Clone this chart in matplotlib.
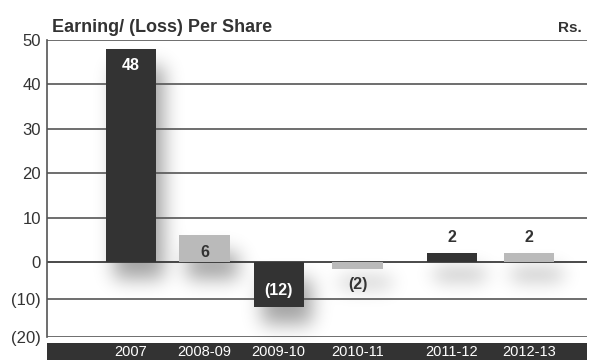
import numpy as np
from matplotlib import pyplot

pyplot.rcParams['font.family'] = ['Liberation Sans', 'DejaVu Sans']

years = ['2007', '2008-09', '2009-10', '2010-11', '2011-12', '2012-13']
eps = [48, 6, -12, -2, 2, 2]
value_labels = ['48', '6', '(12)', '(2)', '2', '2']
y_ticks = [-20, -10, 0, 10, 20, 30, 40, 50]
y_tick_labels = ['(20)', '(10)', '0', '10', '20', '30', '40', '50']

DARK = '#333333'
LIGHT = '#bababa'
TEXT = '#333333'
GRID = '#555555'

W, H = 595, 360

# slot of each bar, with a wider gap before 2011-12
xpos = [0, 0.98, 1.97, 3.02, 4.28, 5.31]
bar_w = 0.67
neg_squash = 0.845  # losses are drawn on a slightly tighter scale


def _fwd(y):
    y = np.asarray(y, dtype=float)
    return np.where(y < 0, y * neg_squash, y)


def _inv(y):
    y = np.asarray(y, dtype=float)
    return np.where(y < 0, y / neg_squash, y)


def _blur(img, sigma):
    r = int(3 * sigma)
    k = np.exp(-0.5 * (np.arange(-r, r + 1) / sigma) ** 2)
    k /= k.sum()
    img = np.apply_along_axis(lambda row: np.convolve(row, k, mode='same'), 1, img)
    img = np.apply_along_axis(lambda col: np.convolve(col, k, mode='same'), 0, img)
    return img


def _shadow_layer(fig, ax, dx=8, dy=17, sigma=9.5, strength=0.36):
    # blurred drop shadow for every bar, rendered in figure pixels
    mask = np.zeros((H, W))
    for x, v in zip(xpos, eps):
        (x0, y0), (x1, y1) = ax.transData.transform([(x - bar_w / 2, 0), (x + bar_w / 2, v)])
        c0, c1 = int(round(x0 + dx)), int(round(x1 + dx))
        r0 = int(round(H - max(y0, y1) + dy))
        r1 = int(round(H - min(y0, y1) + dy))
        mask[max(r0, 0):min(r1, H), max(c0, 0):min(c1, W)] = 1.0
    alpha = _blur(mask, sigma) * strength
    rgba = np.zeros((H, W, 4))
    rgba[..., 3] = alpha
    bg = fig.add_axes([0, 0, 1, 1], zorder=-1)
    bg.imshow(rgba, extent=(0, W, 0, H), origin='upper', interpolation='bilinear')
    bg.set_xlim(0, W)
    bg.set_ylim(0, H)
    bg.axis('off')


fig = pyplot.figure(figsize=(W / 100, H / 100), dpi=100)
left, right = 47 / W, 587 / W
ax = fig.add_axes([left, 23 / H, right - left, 297 / H])
ax.set_facecolor('none')
ax.set_yscale('function', functions=(_fwd, _inv))
ax.set_ylim(-20, 50)
ax.set_xlim(-1.12, 6.08)

for y in y_ticks:
    ax.axhline(y, color='#2a2a2a' if y == 0 else GRID, linewidth=1.2, zorder=0.5)

colors = [DARK if i % 2 == 0 else LIGHT for i in range(len(eps))]
ax.bar(xpos, eps, width=bar_w, color=colors, zorder=3)

for x, v, lab, c in zip(xpos, eps, value_labels, colors):
    sign = 1 if v >= 0 else -1
    if abs(v) >= 5:
        off = -12 * sign
        col = 'white' if c == DARK else TEXT
    else:
        off = 11 * sign
        col = TEXT
    ax.annotate(lab, (x, v), xytext=(0, off), textcoords='offset points',
                ha='center', va='center', fontsize=11.5, fontweight='bold',
                color=col, zorder=4)

ax.set_yticks(y_ticks, y_tick_labels)
ax.tick_params(axis='y', length=0, pad=4.5, labelsize=12, labelcolor=TEXT)
ax.set_xticks([])
for side in ['top', 'right', 'bottom']:
    ax.spines[side].set_visible(False)
ax.spines['left'].set_color(GRID)
ax.spines['left'].set_linewidth(1.2)

_shadow_layer(fig, ax)

# dark band carrying the year labels
band = fig.add_axes([left, 0, right - left, 17 / H])
band.set_facecolor(DARK)
band.set_xlim(ax.get_xlim())
band.set_ylim(0, 1)
band.set_xticks([])
band.set_yticks([])
for s in band.spines.values():
    s.set_visible(False)
for x, yr in zip(xpos, years):
    band.text(x, 0.45, yr, ha='center', va='center', color='white', fontsize=10.5)

fig.text(52 / W, 1 - 32 / H, 'Earning/ (Loss) Per Share', ha='left', va='baseline',
         fontsize=13, fontweight='bold', color=TEXT)
fig.text(582 / W, 1 - 32 / H, 'Rs.', ha='right', va='baseline',
         fontsize=11, fontweight='bold', color=TEXT)

fig.savefig('out.png', dpi=100)
